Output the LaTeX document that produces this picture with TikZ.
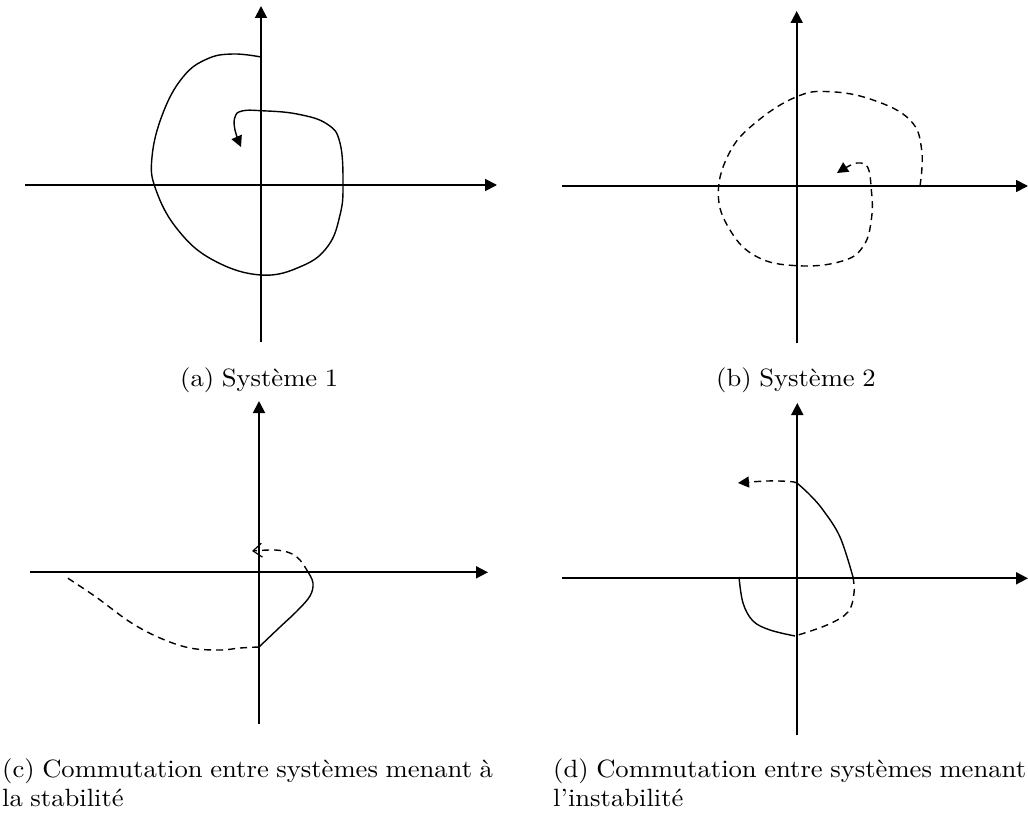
\documentclass[tikz,border=0pt]{standalone}
\usepackage{fontspec}
\newfontfamily\capfont{lmroman10-regular.otf}[FakeStretch=1.065,Ligatures=TeX,WordSpace=0.85]
\usetikzlibrary{arrows.meta}
\begin{document}
\begin{tikzpicture}[x=1pt,y=-1pt,
  axis/.style={line width=1.8pt,-{Triangle[length=12pt,width=12pt]}},
  traj/.style={line width=1.4pt,line join=round},
  dsh/.style={traj,dash pattern=on 7pt off 5pt},
  tiptri/.style={-{Triangle[length=11pt,width=11pt]}},
  barb/.style={-{Straight Barb[length=9pt,width=14pt,line width=1.2pt]}},
  captext/.style={anchor=base west,inner sep=0pt,font=\capfont\fontsize{25}{29}\selectfont,align=left}]
\useasboundingbox (0,0) rectangle (1028,813);
% panel a
\coordinate (a-w) at (25,185); \coordinate (a-e) at (497,185);
\coordinate (a-s) at (261,342); \coordinate (a-n) at (261,6);
\draw[axis] (a-w) -- (a-e);
\draw[axis] (a-s) -- (a-n);
\draw[traj,tiptri] plot[smooth,tension=0.7] coordinates {(261,57) (233,54) (207,59) (183,77) (163,113) (152,157) (156,190) (178,230) (213,260) (261,275) (302,266) (328,246) (340,215) (343,185) (340,143) (327,124) (297,114) (261,110.7) (242,111) (235,117) (235,130) (241,147)};
\node[captext] (capa) at (180,386) {(a) Système 1};
% panel b
\coordinate (b-w) at (562,186); \coordinate (b-e) at (1028,186);
\coordinate (b-s) at (796.7,343); \coordinate (b-n) at (796.7,11);
\draw[axis] (b-w) -- (b-e);
\draw[axis] (b-s) -- (b-n);
\draw[dsh,tiptri] plot[smooth,tension=0.7] coordinates {(920,186) (921.7,150) (910,120) (873,100) (830,91.7) (796.7,96.7) (756.7,121.7) (730,151.7) (718.3,193.3) (730,230) (756.7,256.7) (796.7,265.7) (840,261.7) (863,246.7) (871.7,216.7) (871,186) (868,168) (861,163) (851,165) (837,173)};
\node[captext] (capb) at (716,386) {(b) Système 2};
% panel c
\coordinate (c-w) at (30,572.3); \coordinate (c-e) at (488,572.3);
\coordinate (c-s) at (259,724); \coordinate (c-n) at (259,401);
\draw[axis] (c-w) -- (c-e);
\draw[axis] (c-s) -- (c-n);
\coordinate (c1) at (259,647); \coordinate (c2) at (308,572);
\draw[traj] plot[smooth,tension=0.6] coordinates {(c1) (280,627) (297,611) (310,596) (313,583) (c2)};
\draw[dsh,barb] plot[smooth,tension=0.6] coordinates {(c2) (300,560) (290,553) (275,550) (252,551)};
\draw[dsh] plot[smooth,tension=0.6] coordinates {(c1) (240,648) (220,650) (190,648) (160,638) (130,622) (96,597) (66,577)};
\node[captext] (capc) at (2,806) {(c) Commutation entre systèmes menant à\\la stabilité};
% panel d
\coordinate (d-w) at (562,578.3); \coordinate (d-e) at (1028,578.3);
\coordinate (d-s) at (797.3,735); \coordinate (d-n) at (797.3,403);
\draw[axis] (d-w) -- (d-e);
\draw[axis] (d-s) -- (d-n);
\coordinate (d1) at (797,483); \coordinate (d2) at (853,577); \coordinate (d3) at (795,636);
\draw[traj] plot[smooth,tension=0.6] coordinates {(d1) (810,495) (823,510) (840,537) (d2)};
\draw[dsh] plot[smooth,tension=0.6] coordinates {(d2) (854,593) (848,612) (827,625) (d3)};
\draw[traj] plot[smooth,tension=0.6] coordinates {(d3) (770,630) (753,621) (743,603) (739,577)};
\draw[dsh,tiptri] plot[smooth,tension=0.6] coordinates {(d1) (790,481.5) (767,481) (738,483)};
\node[captext] (capd) at (553,806) {(d) Commutation entre systèmes menant à\\l’instabilité};
\end{tikzpicture}
\end{document}
